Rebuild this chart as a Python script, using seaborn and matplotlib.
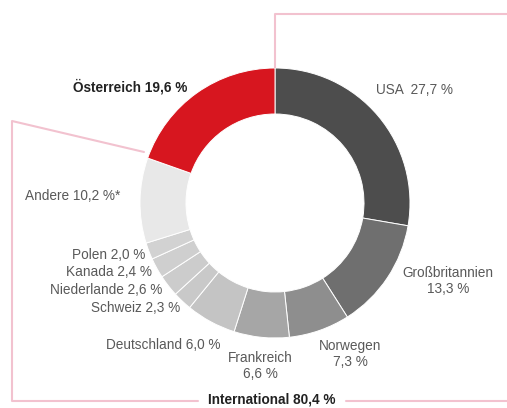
import matplotlib
matplotlib.use("Agg")
import matplotlib.pyplot as plt
import seaborn as sns

sns.set_theme(style="white")
plt.rcParams["font.family"] = ["Liberation Sans", "DejaVu Sans"]

# Market shares, clockwise from 12 o'clock
countries = ["USA", "Großbritannien", "Norwegen", "Frankreich", "Deutschland",
             "Schweiz", "Niederlande", "Kanada", "Polen", "Andere", "Österreich"]
shares = [27.7, 13.3, 7.3, 6.6, 6.0, 2.3, 2.6, 2.4, 2.0, 10.2, 19.6]
label_texts = ["USA  27,7 %", "Großbritannien\n13,3 %", "Norwegen\n7,3 %",
               "Frankreich\n6,6 %", "Deutschland 6,0 %", "Schweiz 2,3 %",
               "Niederlande 2,6 %", "Kanada 2,4 %", "Polen 2,0 %",
               "Andere 10,2 %*", "Österreich 19,6 %"]
international_text = "International 80,4 %"

greys = ["#4d4d4d", "#6f6f6f", "#8e8e8e", "#a6a6a6", "#c4c4c4",
         "#c9c9c9", "#cccccc", "#cfcfcf", "#d2d2d2", "#e8e8e8"]
colors = greys + ["#d7161f"]

W, H = 507, 408
fig = plt.figure(figsize=(W / 100, H / 100), dpi=100)
ax = fig.add_axes([0, 0, 1, 1])

def Y(py):
    return H - py

cx, cy, r_out, ring = 275, 203, 135, 46
ax.pie(shares, colors=colors, startangle=90, counterclock=False,
       center=(cx, Y(cy)), radius=r_out, frame=True,
       wedgeprops=dict(width=ring, edgecolor="white", linewidth=0.7))
ax.set_xlim(0, W)
ax.set_ylim(0, H)
ax.set_aspect("auto")
ax.axis("off")

pink = "#f2c2cf"
lw = 1.5
# bracket around the domestic share
ax.plot([cx, cx, W], [Y(cy - r_out), Y(14), Y(14)], color=pink, lw=lw,
        solid_capstyle="butt")
# bracket around the international shares
ax.plot([144, 12, 12, 198], [Y(152), Y(121), Y(401), Y(401)], color=pink, lw=lw)
ax.plot([346, W], [Y(401), Y(401)], color=pink, lw=lw)

txt = "#595959"
fs = 9.8
positions = {
    "USA": (376, 90, "left"),
    "Großbritannien": (448, 281, "center"),
    "Norwegen": (350, 354, "center"),
    "Frankreich": (260, 366, "center"),
    "Deutschland": (220, 345, "right"),
    "Schweiz": (180, 308, "right"),
    "Niederlande": (162, 290, "right"),
    "Kanada": (152, 272, "right"),
    "Polen": (145, 255, "right"),
    "Andere": (25, 196, "left"),
}
for name, label in zip(countries, label_texts):
    if name == "Österreich":
        ax.text(187, Y(87), label, ha="right", va="center", fontsize=fs,
                fontweight="bold", color="#222222")
        continue
    x, y, ha = positions[name]
    ax.text(x, Y(y), label, ha=ha, va="center", fontsize=fs, color=txt,
            multialignment="center", linespacing=1.25)

ax.text(272, Y(400), international_text, ha="center", va="center",
        fontsize=fs, fontweight="bold", color="#222222")

fig.savefig("out.png", dpi=100)
